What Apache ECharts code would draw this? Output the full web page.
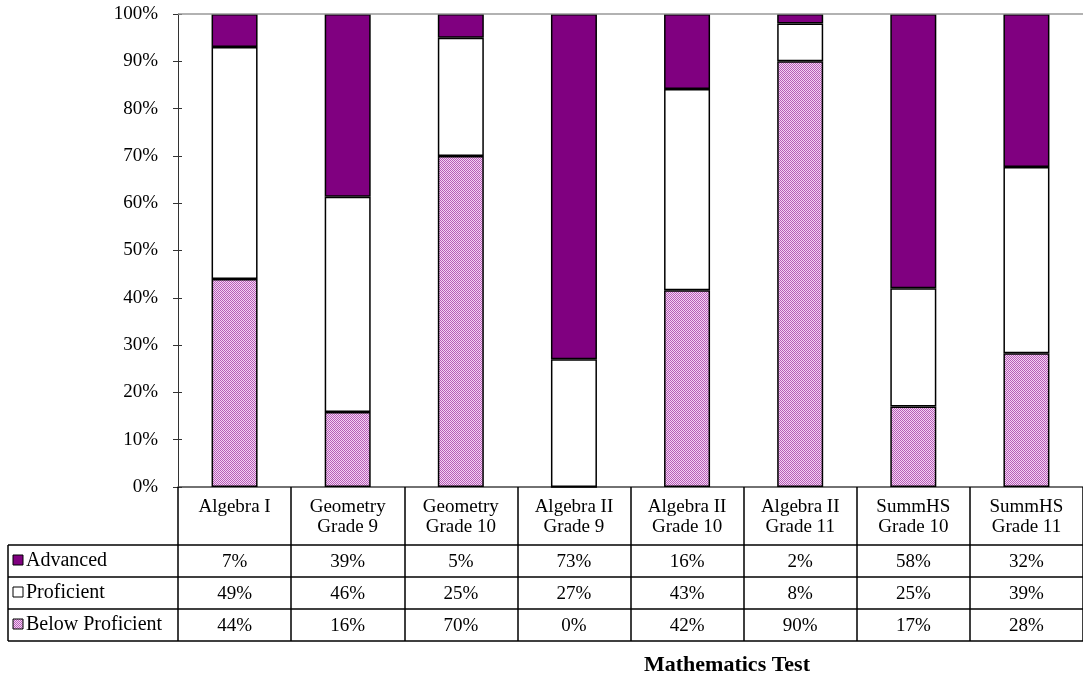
<!DOCTYPE html>
<html>
<head>
<meta charset="utf-8">
<script src="https://cdn.jsdelivr.net/npm/echarts@6/dist/echarts.min.js"></script>
<style>
  html, body { margin: 0; padding: 0; background: #fff; }
  #chart { width: 1083px; height: 675px; }
</style>
</head>
<body>
<div id="chart"></div>
<script>
// categories and values (percent)
var categories = ['Algebra I', 'Geometry\nGrade 9', 'Geometry\nGrade 10', 'Algebra II\nGrade 9',
                  'Algebra II\nGrade 10', 'Algebra II\nGrade 11', 'SummHS\nGrade 10', 'SummHS\nGrade 11'];
var seriesNames = ['Advanced', 'Proficient', 'Below Proficient'];
var advanced = [7, 39, 5, 73, 16, 2, 58, 32];
var proficient = [49, 46, 25, 27, 43, 8, 25, 39];
var belowProficient = [44, 16, 70, 0, 42, 90, 17, 28];
var yTicks = [0, 10, 20, 30, 40, 50, 60, 70, 80, 90, 100];

var FONT = "'Liberation Serif', 'Times New Roman', serif";
var FS = 19;

// 100% stacked: each bar is scaled to its column total
var totals = advanced.map(function (v, i) { return v + proficient[i] + belowProficient[i]; });
function share(arr) {
    return arr.map(function (v, i) { return v / totals[i] * 100; });
}

// dithered pink fill like the original
function makePattern() {
    var c = document.createElement('canvas');
    c.width = 4; c.height = 4;
    var ctx = c.getContext('2d');
    ctx.fillStyle = '#f4d2f4';
    ctx.fillRect(0, 0, 4, 4);
    ctx.fillStyle = '#b760b7';
    for (var i = 0; i < 4; i++) {
        ctx.fillRect(i, i, 1, 1);
        ctx.fillRect((i + 2) % 4, i, 1, 1);
    }
    return c;
}
var pinkFill = { image: makePattern(), repeat: 'repeat' };
var colors = ['#800080', '#ffffff', pinkFill];

var mychart = echarts.init(document.getElementById('chart'));

var barStyle = function (color) {
    return { color: color, borderColor: '#000', borderWidth: 1.5 };
};

var yBase = {
    type: 'value',
    min: yTicks[0],
    max: yTicks[yTicks.length - 1],
    interval: 10,
    splitLine: { show: false }
};

var option = {
    animation: false,
    grid: { left: 178, right: 0, top: 14, bottom: 188 },
    xAxis: {
        type: 'category',
        data: categories,
        axisLine: { lineStyle: { color: '#444', width: 1.5 } },
        axisTick: { show: true, inside: false, length: 154, lineStyle: { color: '#000', width: 1.5 } },
        axisLabel: { color: '#000', fontFamily: FONT, fontSize: FS, lineHeight: 20, margin: 10, interval: 0 }
    },
    yAxis: [
        Object.assign({}, yBase, {
            axisLine: { show: true, lineStyle: { color: '#333' } },
            axisTick: { show: true, length: 5, lineStyle: { color: '#333' } },
            axisLabel: { color: '#000', fontFamily: FONT, fontSize: FS, margin: 20, padding: [4, 0, 0, 0], formatter: '{value}%' }
        }),
        // second axis on the same spot, only for the inner half of the crossing ticks
        Object.assign({}, yBase, {
            position: 'left',
            axisLine: { show: false },
            axisTick: { show: true, inside: true, length: 4, lineStyle: { color: '#333' } },
            axisLabel: { show: false }
        })
    ],
    series: [
        {
            name: seriesNames[2], type: 'bar', stack: 'total', barWidth: 46,
            data: share(belowProficient), itemStyle: barStyle(colors[2])
        },
        {
            name: seriesNames[1], type: 'bar', stack: 'total', barWidth: 46,
            data: share(proficient), itemStyle: barStyle(colors[1])
        },
        {
            name: seriesNames[0], type: 'bar', stack: 'total', barWidth: 46,
            data: share(advanced), itemStyle: barStyle(colors[0]),
            markLine: {
                silent: true, symbol: 'none', label: { show: false },
                lineStyle: { color: '#999', type: 'solid', width: 1.5 },
                data: [{ yAxis: 100 }]
            }
        }
    ]
};
mychart.setOption(option);

// data table under the axis
var rows = [advanced, proficient, belowProficient];
var rowTop = [545, 577, 609];
var rowH = 32;
var tableLeft = 8, tableRight = 1083;
var els = [];
var lineStyle = { stroke: '#000', lineWidth: 1.5 };
for (var r = 0; r <= rows.length; r++) {
    var y = 545 + r * rowH;
    els.push({ type: 'line', shape: { x1: tableLeft, y1: y, x2: tableRight, y2: y }, style: lineStyle });
}
els.push({ type: 'line', shape: { x1: tableLeft, y1: 545, x2: tableLeft, y2: 545 + 3 * rowH }, style: lineStyle });
rows.forEach(function (vals, r) {
    var cy = rowTop[r] + rowH / 2;
    els.push({
        type: 'rect', shape: { x: 13, y: cy - 6, width: 10, height: 10 },
        style: { fill: colors[r], stroke: '#000', lineWidth: 1 }
    });
    els.push({
        type: 'text', x: 26, y: cy,
        style: { text: seriesNames[r], font: '20px ' + FONT, fill: '#000', verticalAlign: 'middle' }
    });
    vals.forEach(function (v, i) {
        var cx = mychart.convertToPixel({ xAxisIndex: 0 }, i);
        els.push({
            type: 'text', x: cx, y: cy + 1,
            style: { text: v + '%', font: FS + 'px ' + FONT, fill: '#000', align: 'center', verticalAlign: 'middle' }
        });
    });
});
els.push({
    type: 'text', x: 727, y: 665,
    style: { text: 'Mathematics Test', font: 'bold 22px ' + FONT, fill: '#000', align: 'center', verticalAlign: 'middle' }
});
mychart.setOption({ graphic: { elements: els } });
</script>
</body>
</html>
